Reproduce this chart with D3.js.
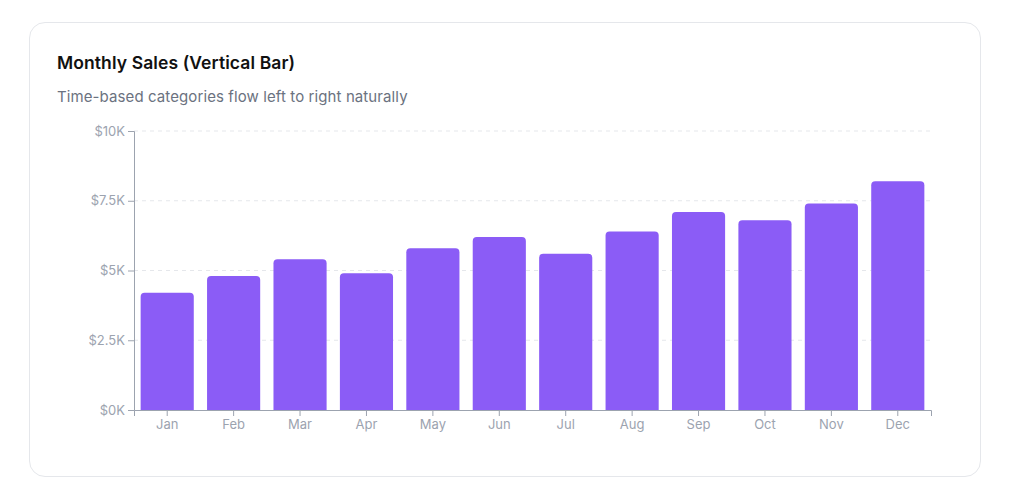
<!DOCTYPE html>
<html>
<head>
<meta charset="utf-8">
<script src="https://cdn.jsdelivr.net/npm/d3@7"></script>
<style>
  body { margin: 0; background: #fff; font-family: Inter, "Noto Sans", sans-serif; }
  .card {
    position: absolute; left: 29px; top: 22px; width: 952px; height: 455px;
    border: 1px solid #e5e7eb; border-radius: 16px; box-sizing: border-box; background: #fff;
  }
  .title { position: absolute; left: 27px; top: 29px; font-size: 17.5px; font-weight: 600; color: #111; letter-spacing: 0.1px; }
  .subtitle { position: absolute; left: 27px; top: 64px; font-size: 15px; color: #6b7280; letter-spacing: 0.1px; }
  svg { position: absolute; left: 0; top: 0; }
  .tick text { fill: #9ca3af; font-size: 13px; font-family: Inter, "Noto Sans", sans-serif; }
</style>
</head>
<body>
<div class="card">
  <div class="title">Monthly Sales (Vertical Bar)</div>
  <div class="subtitle">Time-based categories flow left to right naturally</div>
</div>
<div id="chart"></div>
<script>
const months = ['Jan', 'Feb', 'Mar', 'Apr', 'May', 'Jun', 'Jul', 'Aug', 'Sep', 'Oct', 'Nov', 'Dec'];
const sales = [4200, 4800, 5400, 4900, 5800, 6200, 5600, 6400, 7100, 6800, 7400, 8200];
const yTicks = [0, 2500, 5000, 7500, 10000];

const width = 1029, height = 500;
const margin = {left: 134, right: 98, top: 131, bottom: 90};

const svg = d3.select('#chart').append('svg')
    .attr('width', width)
    .attr('height', height);

const x = d3.scaleBand()
    .domain(months)
    .range([margin.left, width - margin.right])
    .paddingInner(0.2)
    .paddingOuter(0.1);

const y = d3.scaleLinear()
    .domain([0, 10000])
    .range([height - margin.bottom, margin.top]);

// dashed grid
svg.append('g')
  .selectAll('line')
  .data(yTicks.slice(1))
  .enter().append('line')
    .attr('x1', margin.left)
    .attr('x2', width - margin.right)
    .attr('y1', d => y(d))
    .attr('y2', d => y(d))
    .attr('stroke', '#e5e7eb')
    .attr('stroke-dasharray', '4 4');

svg.append('g')
  .selectAll('path')
  .data(months)
  .enter().append('path')
    .attr('fill', '#8b5cf6')
    .attr('d', function(d, i) {
      const x0 = x(d), w = x.bandwidth(), y0 = y(sales[i]), y1 = y(0), r = 4;
      return `M${x0},${y1}V${y0 + r}Q${x0},${y0} ${x0 + r},${y0}H${x0 + w - r}Q${x0 + w},${y0} ${x0 + w},${y0 + r}V${y1}Z`;
    });

const fmt = d => '$' + (d / 1000) + 'K';

svg.append('g')
    .attr('transform', `translate(${margin.left},0)`)
    .call(d3.axisLeft(y).tickValues(yTicks).tickFormat(fmt).tickSize(6).tickPadding(3))
    .call(g => g.selectAll('.domain, line').attr('stroke', '#9ca3af'));

svg.append('g')
    .attr('transform', `translate(0,${height - margin.bottom})`)
    .call(d3.axisBottom(x).tickSize(6).tickPadding(4))
    .call(g => g.selectAll('.domain, line').attr('stroke', '#9ca3af'));
</script>
</body>
</html>
